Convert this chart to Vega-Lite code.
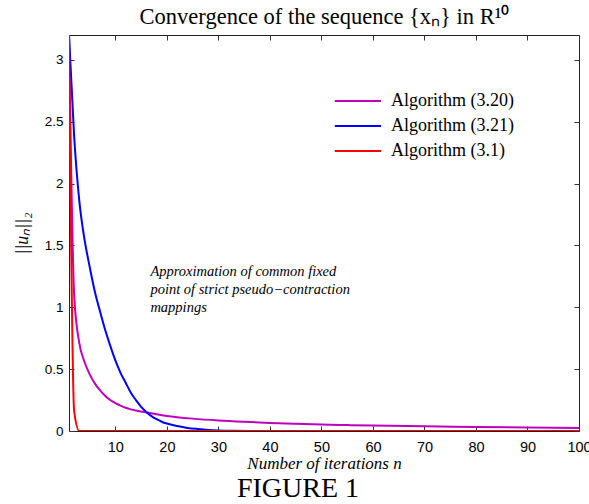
{
  "$schema": "https://vega.github.io/schema/vega-lite/v6.json",
  "autosize": "none",
  "padding": {"left": 69, "top": 35, "right": 10, "bottom": 73},
  "width": 510,
  "height": 396,
  "background": "white",
  "title": {"text": "FIGURE 1", "orient": "bottom", "font": "Liberation Serif", "fontSize": 28, "fontWeight": "normal", "color": "#000", "offset": 3, "dx": -26},
  "config": {
    "view": {"stroke": "#222", "strokeWidth": 1},
    "axis": {"grid": false, "domain": false, "tickColor": "#333", "tickSize": -5, "labelColor": "#000", "labelFont": "Liberation Sans", "labelFontSize": 13.5, "titleColor": "#000", "labelFlush": false}
  },
  "datasets": {
    "series": [
      {"n": 1, "v": 3.2, "alg": "Algorithm (3.20)"},
      {"n": 2, "v": 1.1, "alg": "Algorithm (3.20)"},
      {"n": 3, "v": 0.71, "alg": "Algorithm (3.20)"},
      {"n": 4, "v": 0.56, "alg": "Algorithm (3.20)"},
      {"n": 5, "v": 0.46, "alg": "Algorithm (3.20)"},
      {"n": 6, "v": 0.385, "alg": "Algorithm (3.20)"},
      {"n": 7, "v": 0.33, "alg": "Algorithm (3.20)"},
      {"n": 8, "v": 0.285, "alg": "Algorithm (3.20)"},
      {"n": 9, "v": 0.25, "alg": "Algorithm (3.20)"},
      {"n": 10, "v": 0.225, "alg": "Algorithm (3.20)"},
      {"n": 11, "v": 0.205, "alg": "Algorithm (3.20)"},
      {"n": 12, "v": 0.188, "alg": "Algorithm (3.20)"},
      {"n": 13, "v": 0.175, "alg": "Algorithm (3.20)"},
      {"n": 14, "v": 0.165, "alg": "Algorithm (3.20)"},
      {"n": 15, "v": 0.157, "alg": "Algorithm (3.20)"},
      {"n": 16, "v": 0.15, "alg": "Algorithm (3.20)"},
      {"n": 18, "v": 0.135, "alg": "Algorithm (3.20)"},
      {"n": 20, "v": 0.122, "alg": "Algorithm (3.20)"},
      {"n": 22, "v": 0.112, "alg": "Algorithm (3.20)"},
      {"n": 25, "v": 0.1, "alg": "Algorithm (3.20)"},
      {"n": 30, "v": 0.085, "alg": "Algorithm (3.20)"},
      {"n": 35, "v": 0.074, "alg": "Algorithm (3.20)"},
      {"n": 40, "v": 0.065, "alg": "Algorithm (3.20)"},
      {"n": 45, "v": 0.058, "alg": "Algorithm (3.20)"},
      {"n": 50, "v": 0.052, "alg": "Algorithm (3.20)"},
      {"n": 55, "v": 0.048, "alg": "Algorithm (3.20)"},
      {"n": 60, "v": 0.044, "alg": "Algorithm (3.20)"},
      {"n": 70, "v": 0.038, "alg": "Algorithm (3.20)"},
      {"n": 80, "v": 0.032, "alg": "Algorithm (3.20)"},
      {"n": 90, "v": 0.028, "alg": "Algorithm (3.20)"},
      {"n": 100, "v": 0.025, "alg": "Algorithm (3.20)"},
      {"n": 1, "v": 3.2, "alg": "Algorithm (3.21)"},
      {"n": 2, "v": 2.38, "alg": "Algorithm (3.21)"},
      {"n": 3, "v": 1.86, "alg": "Algorithm (3.21)"},
      {"n": 4, "v": 1.55, "alg": "Algorithm (3.21)"},
      {"n": 5, "v": 1.33, "alg": "Algorithm (3.21)"},
      {"n": 6, "v": 1.13, "alg": "Algorithm (3.21)"},
      {"n": 7, "v": 0.97, "alg": "Algorithm (3.21)"},
      {"n": 8, "v": 0.82, "alg": "Algorithm (3.21)"},
      {"n": 9, "v": 0.69, "alg": "Algorithm (3.21)"},
      {"n": 10, "v": 0.57, "alg": "Algorithm (3.21)"},
      {"n": 11, "v": 0.47, "alg": "Algorithm (3.21)"},
      {"n": 12, "v": 0.39, "alg": "Algorithm (3.21)"},
      {"n": 13, "v": 0.31, "alg": "Algorithm (3.21)"},
      {"n": 14, "v": 0.25, "alg": "Algorithm (3.21)"},
      {"n": 15, "v": 0.195, "alg": "Algorithm (3.21)"},
      {"n": 16, "v": 0.154, "alg": "Algorithm (3.21)"},
      {"n": 17, "v": 0.12, "alg": "Algorithm (3.21)"},
      {"n": 18, "v": 0.095, "alg": "Algorithm (3.21)"},
      {"n": 19, "v": 0.075, "alg": "Algorithm (3.21)"},
      {"n": 20, "v": 0.06, "alg": "Algorithm (3.21)"},
      {"n": 22, "v": 0.04, "alg": "Algorithm (3.21)"},
      {"n": 24, "v": 0.025, "alg": "Algorithm (3.21)"},
      {"n": 26, "v": 0.016, "alg": "Algorithm (3.21)"},
      {"n": 28, "v": 0.009, "alg": "Algorithm (3.21)"},
      {"n": 30, "v": 0.005, "alg": "Algorithm (3.21)"},
      {"n": 33, "v": 0.002, "alg": "Algorithm (3.21)"},
      {"n": 36, "v": 0.0005, "alg": "Algorithm (3.21)"},
      {"n": 40, "v": 0, "alg": "Algorithm (3.21)"},
      {"n": 100, "v": 0, "alg": "Algorithm (3.21)"},
      {"n": 1, "v": 3.2, "alg": "Algorithm (3.1)"},
      {"n": 2, "v": 0.16, "alg": "Algorithm (3.1)"},
      {"n": 3, "v": 0, "alg": "Algorithm (3.1)"},
      {"n": 100, "v": 0, "alg": "Algorithm (3.1)"}
    ],
    "notes": [
      {"n": 16.8, "v": 1.256, "label": "Approximation of common fixed"},
      {"n": 16.8, "v": 1.105, "label": "point of strict pseudo−contraction"},
      {"n": 16.8, "v": 0.959, "label": "mappings"}
    ]
  },
  "layer": [
    {
      "data": {"name": "series"},
      "mark": {"type": "line", "strokeWidth": 2, "clip": true, "interpolate": "monotone"},
      "encoding": {
        "x": {"field": "n", "type": "quantitative",
          "scale": {"domain": [1, 100], "nice": false, "zero": false},
          "axis": {"orient": "bottom", "values": [10, 20, 30, 40, 50, 60, 70, 80, 90, 100], "labelFontSize": 14.5, "labelPadding": 14, "title": "Number of iterations n", "titleFont": "Liberation Serif", "titleFontStyle": "italic", "titleFontWeight": "normal", "titleFontSize": 17, "titlePadding": 2}},
        "y": {"field": "v", "type": "quantitative",
          "scale": {"domain": [0, 3.2], "nice": false},
          "axis": {"orient": "left", "values": [0, 0.5, 1, 1.5, 2, 2.5, 3], "format": "~g", "labelPadding": 11, "title": "||uₙ||₂", "titleFont": "Liberation Serif", "titleFontStyle": "italic", "titleFontWeight": "normal", "titleFontSize": 18, "titlePadding": 13}},
        "color": {"field": "alg", "type": "nominal",
          "scale": {"domain": ["Algorithm (3.20)", "Algorithm (3.21)", "Algorithm (3.1)"], "range": ["#bf00bf", "#0000ff", "#ff0000"]},
          "legend": {"title": null, "orient": "none", "legendX": 297, "legendY": 57, "symbolType": "M-6.7,0H1", "symbolSize": 144, "symbolStrokeWidth": 2, "labelFont": "Liberation Serif", "labelFontSize": 18, "labelColor": "#000", "labelOffset": 7, "rowPadding": 7, "padding": 0}}
      }
    },
    {
      "data": {"name": "notes"},
      "mark": {"type": "text", "align": "left", "baseline": "alphabetic", "font": "Liberation Serif", "fontStyle": "italic", "fontSize": 14.5, "color": "#000"},
      "encoding": {
        "x": {"field": "n", "type": "quantitative",
          "axis": {"orient": "top", "values": [10, 20, 30, 40, 50, 60, 70, 80, 90, 100], "labels": false, "title": "Convergence of the sequence {xₙ} in R¹⁰", "titleFont": "Liberation Serif", "titleFontWeight": "normal", "titleFontSize": 22.5, "titlePadding": 6}},
        "y": {"field": "v", "type": "quantitative",
          "axis": {"orient": "right", "values": [0, 0.5, 1, 1.5, 2, 2.5, 3], "labels": false, "title": null}},
        "text": {"field": "label"}
      }
    }
  ]
}
